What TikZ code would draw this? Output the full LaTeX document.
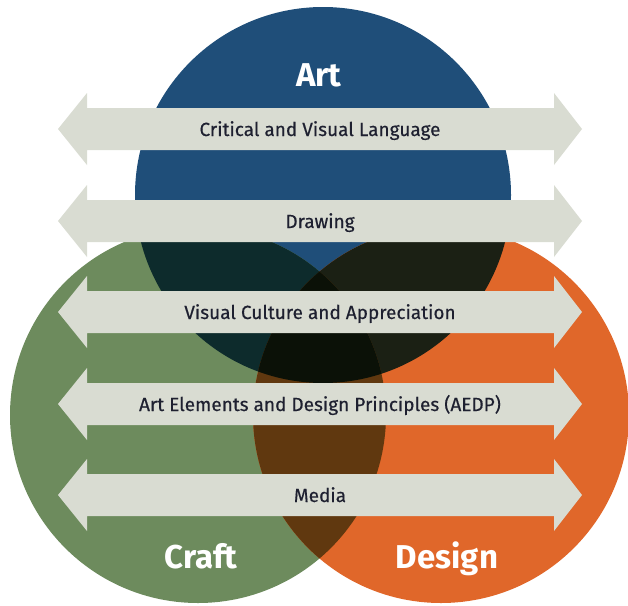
\documentclass[tikz,border=0pt]{standalone}
\usepackage{fontspec}
\setmainfont{Fira Sans}
\newfontfamily\bandfont[FakeBold=0.4]{Fira Sans}
\definecolor{artblue}{HTML}{1F4E79}
\definecolor{craftgreen}{HTML}{6D8B5D}
\definecolor{designorange}{HTML}{E0672A}
\definecolor{bgov}{HTML}{0D2B2C}
\definecolor{boov}{HTML}{1B2014}
\definecolor{goov}{HTML}{60380F}
\definecolor{allov}{HTML}{0B1107}
\definecolor{bandgray}{HTML}{D9DCD2}
\definecolor{labink}{HTML}{1E2030}
\tikzset{
  bandarrow/.style={fill=bandgray, draw=none},
  bandlabel/.style={anchor=base, text=labink, font=\bandfont\fontsize{19}{22}\selectfont, inner sep=0pt},
  titlelabel/.style={anchor=base, text=white, font=\bfseries\fontsize{33}{38}\selectfont, inner sep=0pt}
}
\begin{document}
\begin{tikzpicture}[x=1pt,y=-1pt]
\useasboundingbox (0,0) rectangle (628,605);
\coordinate (A) at (323,195);
\coordinate (C) at (198,415);
\coordinate (D) at (441,415);
\def\R{188}
% circles
\fill[artblue] (A) circle[radius=\R];
\fill[craftgreen] (C) circle[radius=\R];
\fill[designorange] (D) circle[radius=\R];
\begin{scope}
  \clip (A) circle[radius=\R];
  \fill[bgov] (C) circle[radius=\R];
  \fill[boov] (D) circle[radius=\R];
\end{scope}
\begin{scope}
  \clip (C) circle[radius=\R];
  \fill[goov] (D) circle[radius=\R];
  \clip (D) circle[radius=\R];
  \fill[allov] (A) circle[radius=\R];
\end{scope}
% double arrows
\foreach \yc/\name/\txt in {129/r1/{Critical and Visual Language},
                             221/r2/{Drawing},
                             312/r3/{Visual Culture and Appreciation},
                             404/r4/{Art Elements and Design Principles (AEDP)},
                             495/r5/{Media}}{
  \fill[bandarrow] (58,\yc) -- (87,\yc-36) -- (87,\yc-21) -- (554,\yc-21) -- (554,\yc-36)
     -- (582,\yc) -- (554,\yc+36) -- (554,\yc+21) -- (87,\yc+21) -- (87,\yc+36) -- cycle;
  \node[bandlabel] (\name) at (320,\yc+7) {\txt};
}
% titles
\node[titlelabel] (art) at (319,86) {Art};
\node[titlelabel] (craft) at (201,568) {Craft};
\node[titlelabel] (design) at (447,568) {Design};
\end{tikzpicture}
\end{document}
